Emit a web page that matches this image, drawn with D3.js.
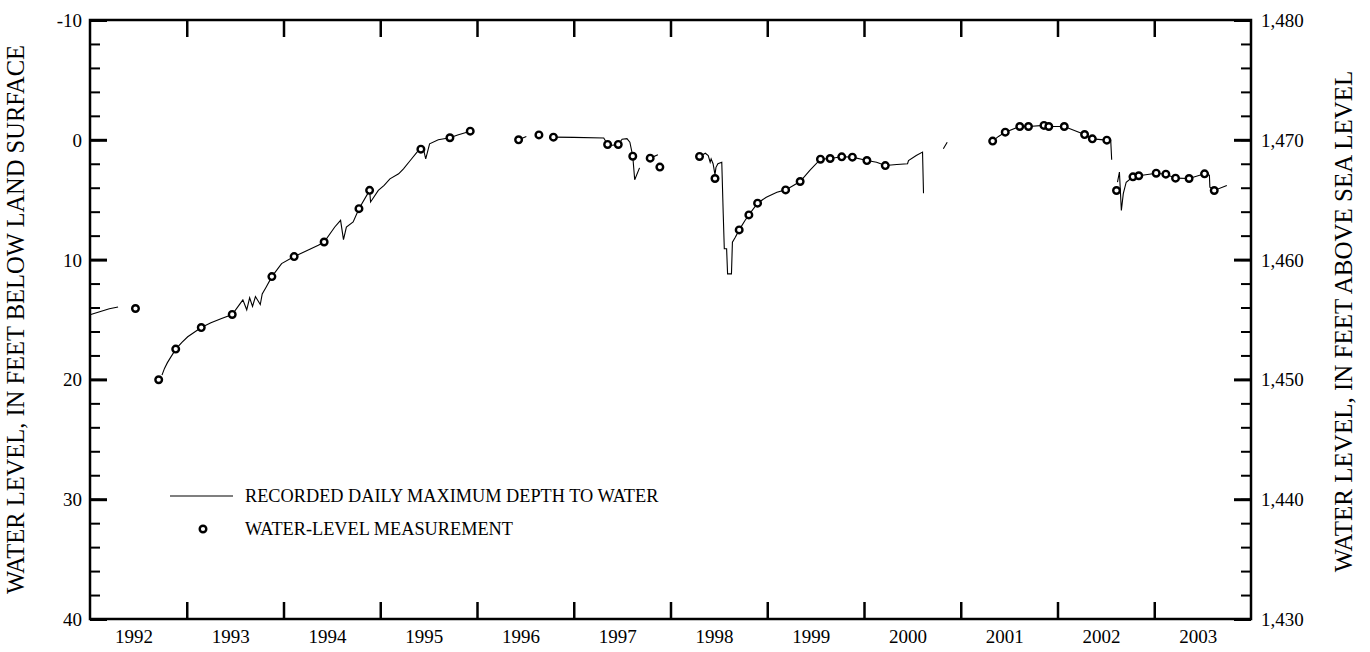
<!DOCTYPE html>
<html>
<head>
<meta charset="utf-8">
<script src="https://cdn.jsdelivr.net/npm/d3@7"></script>
<style>
  html, body { margin: 0; padding: 0; background: #fff; }
  svg { display: block; }
  text { font-family: "Liberation Serif", "Times New Roman", serif; fill: #000; }
</style>
</head>
<body>
<svg id="chart" width="1370" height="652"></svg>
<script>
// ---------- DATA ----------
const yearLabels = ["1992","1993","1994","1995","1996","1997","1998","1999","2000","2001","2002","2003"];
const depthTicks = [-10, 0, 10, 20, 30, 40];
const depthTickLabels = ["-10", "0", "10", "20", "30", "40"];
const elevTicks = [1480, 1470, 1460, 1450, 1440, 1430];
const elevTickLabels = ["1,480","1,470","1,460","1,450","1,440","1,430"];

// Recorded daily maximum depth to water (decimal year, feet); null = gap in record
const recordedYears = [
  1992.00, 1992.10, 1992.20, 1992.29, null,
  1992.744, 1992.77, 1992.80, 1992.886, 1992.95, 1993.01, 1993.15, 1993.25, 1993.36, 1993.47,
  1993.55, 1993.58, 1993.62, 1993.65, 1993.68, 1993.71, 1993.76, 1993.78, 1993.82, 1993.88,
  1993.98, 1994.11, 1994.25, 1994.36, 1994.42, 1994.53, 1994.59, 1994.62, 1994.65, 1994.72,
  1994.78, 1994.89, 1994.90, 1994.98, 1995.04, 1995.10, 1995.19, 1995.24, 1995.31, 1995.38,
  1995.42, 1995.45, 1995.47, 1995.51, 1995.60, 1995.72, 1995.80, 1995.93, null,
  1996.43, 1996.51, null,
  1996.79, 1997.00, 1997.31, 1997.35, 1997.40, 1997.46, 1997.50, 1997.55, 1997.58, 1997.61,
  1997.63, 1997.68, null,
  1997.79, 1997.87, null,
  1998.30, 1998.36, 1998.39, 1998.41, 1998.42, 1998.44, 1998.46, 1998.47, 1998.49, 1998.53,
  1998.545, 1998.556, 1998.58, 1998.59, 1998.63, 1998.64, 1998.67, 1998.71, 1998.77, 1998.81,
  1998.90, 1998.99, 1999.10, 1999.19, 1999.27, 1999.34, 1999.44, 1999.55, 1999.65, 1999.77,
  1999.88, 2000.03, 2000.13, 2000.22, 2000.34, 2000.45, 2000.46, 2000.54, 2000.605, 2000.615, null,
  2000.82, 2000.86, null,
  2001.33, 2001.39, 2001.46, 2001.61, 2001.70, 2001.86, 2001.91, 2002.07, 2002.28, 2002.36,
  2002.51, 2002.55, 2002.56, null,
  2002.62, 2002.64, 2002.66, 2002.68, 2002.71, 2002.78, 2002.84, 2003.02, 2003.12, 2003.22,
  2003.36, 2003.52, 2003.57, 2003.575, 2003.62, 2003.75
];
const recordedDepths = [
  14.6, 14.35, 14.1, 13.95, null,
  19.64, 19.08, 18.6, 17.47, 16.9, 16.44, 15.67, 15.28, 14.92, 14.58,
  13.69, 13.36, 14.19, 13.19, 13.91, 13.08, 13.75, 12.86, 12.3, 11.42,
  10.33, 9.75, 9.22, 8.8, 8.53, 7.28, 6.72, 8.33, 7.28, 6.86,
  5.75, 4.22, 5.19, 4.22, 3.8, 3.26, 2.84, 2.42, 1.73, 1.03,
  0.78, 0.9, 1.6, 0.34, 0.0, -0.17, -0.4, -0.72, null,
  0.0, -0.28, null,
  -0.22, -0.2, -0.15, 0.39, 0.45, 0.39, -0.05, -0.1, 0.2, 1.37,
  3.34, 2.34, null,
  1.53, 1.25, null,
  1.39, 1.12, 1.31, 1.87, 1.59, 2.0, 2.9, 2.3, 2.0, 1.87,
  6.18, 9.1, 9.1, 11.19, 11.19, 8.55, 8.13, 7.52, 6.74, 6.27,
  5.29, 4.79, 4.37, 4.18, 3.81, 3.48, 2.56, 1.62, 1.56, 1.42,
  1.45, 1.73, 1.87, 2.15, 2.06, 2.0, 1.73, 1.31, 1.03, 4.46, null,
  0.75, 0.2, null,
  0.11, -0.28, -0.64, -1.11, -1.11, -1.2, -1.11, -1.11, -0.44, -0.08,
  0.03, 0.03, 1.67, null,
  3.54, 2.7, 5.9, 4.5, 3.54, 3.09, 3.0, 2.79, 2.87, 3.2,
  3.23, 2.84, 2.95, 3.95, 4.23, 3.81
];

// Water-level measurements (decimal year, feet below land surface)
const measYears = [
  1992.47, 1992.71, 1992.886, 1993.15, 1993.47, 1993.88, 1994.11, 1994.42, 1994.78, 1994.89,
  1995.42, 1995.72, 1995.93, 1996.43, 1996.64, 1996.79, 1997.35, 1997.46, 1997.61, 1997.79,
  1997.89, 1998.30, 1998.46, 1998.71, 1998.81, 1998.90, 1999.19, 1999.34, 1999.55, 1999.65,
  1999.77, 1999.88, 2000.03, 2000.22, 2001.33, 2001.46, 2001.61, 2001.70, 2001.86, 2001.91,
  2002.07, 2002.28, 2002.36, 2002.51, 2002.61, 2002.78, 2002.84, 2003.02, 2003.12, 2003.22,
  2003.36, 2003.52, 2003.62
];
const measDepths = [
  14.08, 20.03, 17.47, 15.67, 14.58, 11.42, 9.75, 8.53, 5.75, 4.22,
  0.78, -0.17, -0.72, 0.0, -0.41, -0.22, 0.39, 0.39, 1.37, 1.53,
  2.28, 1.39, 3.23, 7.52, 6.27, 5.29, 4.18, 3.48, 1.62, 1.56,
  1.42, 1.45, 1.73, 2.15, 0.11, -0.64, -1.11, -1.11, -1.2, -1.11,
  -1.11, -0.44, -0.08, 0.03, 4.23, 3.09, 3.0, 2.79, 2.87, 3.2,
  3.23, 2.84, 4.23
];

const legendLabels = ["RECORDED DAILY MAXIMUM DEPTH TO WATER", "WATER-LEVEL MEASUREMENT"];
const leftTitle = "WATER LEVEL, IN FEET BELOW LAND SURFACE";
const rightTitle = "WATER LEVEL, IN FEET ABOVE SEA LEVEL";

// ---------- LAYOUT ----------
const svg = d3.select("#chart");
const L = 90, R = 1251, T = 20, B = 619;

const x = d3.scaleLinear().domain([1992, 2004]).range([L, R]);
const y = d3.scaleLinear().domain([-10, 40]).range([T, B]);
const yR = d3.scaleLinear().domain([1480, 1430]).range([T, B]);

const yearStarts = d3.range(1993, 2004);
const minorDepth = d3.range(-10, 41, 2);
const minorElev = d3.range(1430, 1481, 2);

function styleAxis(g, w) {
  g.selectAll(".domain").remove();
  g.selectAll(".tick line").attr("stroke", "#000").attr("stroke-width", w);
}

// Minor ticks left
svg.append("g").attr("transform", `translate(${L},0)`)
  .call(d3.axisRight(y).tickValues(minorDepth).tickSize(10).tickFormat(""))
  .call(g => styleAxis(g, 2));
// Major ticks left with labels
svg.append("g").attr("transform", `translate(${L},0)`)
  .call(d3.axisRight(y).tickValues(depthTicks).tickSize(17)
        .tickFormat((d, i) => depthTickLabels[i]))
  .call(g => styleAxis(g, 3))
  .call(g => g.selectAll("text").attr("x", -8).attr("text-anchor", "end")
      .attr("font-size", 19).attr("dy", "0.34em"));

// Minor ticks right
svg.append("g").attr("transform", `translate(${R},0)`)
  .call(d3.axisLeft(yR).tickValues(minorElev).tickSize(10).tickFormat(""))
  .call(g => styleAxis(g, 2));
svg.append("g").attr("transform", `translate(${R},0)`)
  .call(d3.axisLeft(yR).tickValues(elevTicks).tickSize(17)
        .tickFormat((d, i) => elevTickLabels[i]))
  .call(g => styleAxis(g, 3))
  .call(g => g.selectAll("text").attr("x", 10).attr("text-anchor", "start")
      .attr("font-size", 19).attr("dy", "0.34em"));

// Year boundary ticks bottom (upward) and top (downward)
svg.append("g").attr("transform", `translate(0,${B})`)
  .call(d3.axisTop(x).tickValues(yearStarts).tickSize(17).tickFormat(""))
  .call(g => styleAxis(g, 2.5));
svg.append("g").attr("transform", `translate(0,${T})`)
  .call(d3.axisBottom(x).tickValues(yearStarts).tickSize(17).tickFormat(""))
  .call(g => styleAxis(g, 2.5));
// Year labels centred in each year
svg.append("g").attr("transform", `translate(0,${B})`)
  .call(d3.axisBottom(x).tickValues(yearLabels.map(v => +v + 0.45)).tickSize(0)
        .tickFormat((d, i) => yearLabels[i]))
  .call(g => g.select(".domain").remove())
  .call(g => g.selectAll("text").attr("font-size", 19).attr("y", 24).attr("dy", 0));

// Frame
svg.append("rect").attr("x", L).attr("y", T).attr("width", R - L).attr("height", B - T)
  .attr("fill", "none").attr("stroke", "#000").attr("stroke-width", 2.5);

// Recorded line
const recData = recordedYears.map((yr, i) => ({ yr, d: recordedDepths[i] }));
const line = d3.line()
  .defined(p => p.yr !== null && p.d !== null)
  .x(p => x(p.yr)).y(p => y(p.d));
svg.append("path").datum(recData)
  .attr("d", line).attr("fill", "none").attr("stroke", "#000").attr("stroke-width", 1.1);

// Measurements
svg.append("g").selectAll("circle")
  .data(measYears.map((yr, i) => ({ yr, d: measDepths[i] })))
  .join("circle")
  .attr("cx", p => x(p.yr)).attr("cy", p => y(p.d)).attr("r", 3.3)
  .attr("fill", "#fff").attr("stroke", "#000").attr("stroke-width", 2.4);

// Legend
const leg = svg.append("g");
leg.append("line").attr("x1", 170).attr("x2", 233).attr("y1", 496).attr("y2", 496)
  .attr("stroke", "#000").attr("stroke-width", 1.1);
leg.append("text").attr("x", 245).attr("y", 502).attr("font-size", 18.3).text(legendLabels[0]);
leg.append("circle").attr("cx", 203).attr("cy", 529).attr("r", 3.3)
  .attr("fill", "#fff").attr("stroke", "#000").attr("stroke-width", 2.4);
leg.append("text").attr("x", 245).attr("y", 535).attr("font-size", 18.3).text(legendLabels[1]);

// Axis titles
svg.append("text").attr("transform", `translate(24,${(T + B) / 2}) rotate(-90)`)
  .attr("text-anchor", "middle").attr("font-size", 24.5).text(leftTitle);
svg.append("text").attr("transform", `translate(1352,${(T + B) / 2 + 2}) rotate(-90)`)
  .attr("text-anchor", "middle").attr("font-size", 25).text(rightTitle);
</script>
</body>
</html>
